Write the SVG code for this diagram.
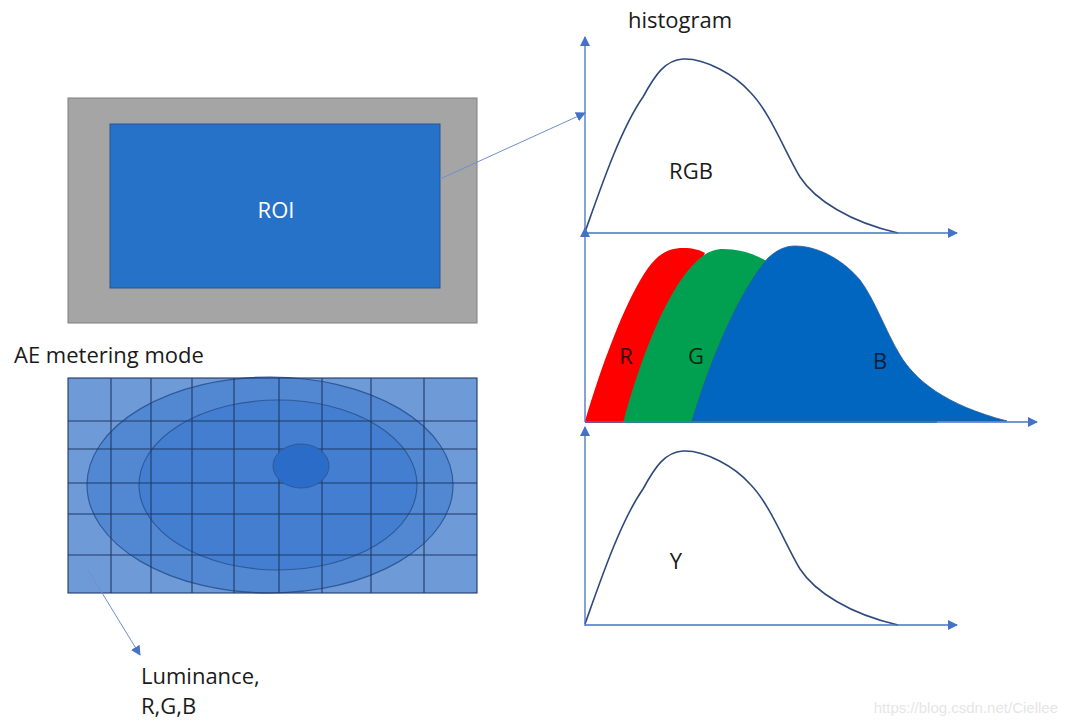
<svg xmlns="http://www.w3.org/2000/svg" width="1069" height="727" viewBox="0 0 1069 727">
<defs>
<marker id="ah" viewBox="0 0 10 10" refX="9" refY="5" markerWidth="10" markerHeight="10" markerUnits="userSpaceOnUse" orient="auto">
<path d="M0,0 L10,5 L0,10 Z" fill="#4472c4"/>
</marker>
<style>
.t{font-family:"Open Sans","Liberation Sans",sans-serif;font-size:22px;fill:#1a1a1a}
.ax{stroke:#4472c4;stroke-width:1.3;fill:none;marker-end:url(#ah)}
.cv{stroke:#2f4a7a;stroke-width:1.6;fill:none}
.gl{stroke:#1f3a66;stroke-width:1.1}
.conn{stroke:#6f8fd0;stroke-width:1;fill:none;marker-end:url(#ah)}
</style>
</defs>
<rect width="1069" height="727" fill="#ffffff"/>

<g id="roi-frame">
<rect x="68" y="98" width="409" height="225" fill="#a5a5a5" stroke="#7f7f7f" stroke-width="1"/>
<rect x="110" y="124" width="330" height="164" fill="#2672c9" stroke="#2a5490" stroke-width="1"/>
<text x="276" y="218" text-anchor="middle" class="t" style="fill:#ffffff">ROI</text>
</g>

<g id="ae-grid">
<text x="14" y="363" class="t">AE metering mode</text>
<rect x="68" y="378" width="409" height="215" fill="#6e9ad8"/>
<ellipse cx="270" cy="485" rx="183" ry="108" fill="#4a80cf" fill-opacity="0.75" stroke="#2e5a9a" stroke-width="1.2"/>
<ellipse cx="278" cy="485" rx="139" ry="85" fill="#3e7ad0" fill-opacity="0.7" stroke="#2e5a9a" stroke-width="1.2"/>
<g class="gl">
<line x1="111" y1="378" x2="111" y2="593"/>
<line x1="151" y1="378" x2="151" y2="593"/>
<line x1="192" y1="378" x2="192" y2="593"/>
<line x1="234" y1="378" x2="234" y2="593"/>
<line x1="279" y1="378" x2="279" y2="593"/>
<line x1="322" y1="378" x2="322" y2="593"/>
<line x1="371" y1="378" x2="371" y2="593"/>
<line x1="424" y1="378" x2="424" y2="593"/>
<line x1="68" y1="421" x2="477" y2="421"/>
<line x1="68" y1="449" x2="477" y2="449"/>
<line x1="68" y1="483" x2="477" y2="483"/>
<line x1="68" y1="514" x2="477" y2="514"/>
<line x1="68" y1="555" x2="477" y2="555"/>
</g>
<ellipse cx="301" cy="466" rx="28" ry="22" fill="#2a6cc8" stroke="#2e5a9a" stroke-width="1"/>
<rect x="68" y="378" width="409" height="215" fill="none" stroke="#1f3a66" stroke-width="1.1"/>
</g>

<g id="luminance-label">
<text x="141" y="684" class="t">Luminance,</text>
<text x="141" y="714" class="t">R,G,B</text>
</g>

<g id="histogram-title">
<text x="628" y="28" class="t">histogram</text>
</g>

<g id="chart-rgb">
<path class="cv" d="M585,232 C600,190 620,130 643,97 C655,75 665,60 683,59 C705,58 735,75 750,92 C770,112 785,152 800,177 C815,200 850,222 898,233"/>
<line class="ax" x1="585" y1="234" x2="585" y2="37"/>
<line class="ax" x1="585" y1="233" x2="957" y2="233"/>
<text x="691" y="179" text-anchor="middle" class="t">RGB</text>
</g>

<g id="chart-rgb-channels">
<path fill="#ff0000" d="M585,421 C600,370 625,300 648,268 C660,252 670,248 683,248 C693,248 700,250 705,253 L623,423 L585,423 Z"/>
<path fill="#00a050" d="M623,423 C640,360 665,295 692,266 C703,254 712,249 723,249 C742,249 757,255 768,262 L800,421 L937,421 L937,423 Z"/>
<path fill="#0066c0" stroke="#2a5a9a" stroke-width="0.8" d="M692,421 C710,360 740,290 768,258 C777,250 785,246 795,246 C820,246 845,262 860,280 C875,300 885,330 900,355 C915,380 945,405 1007,421 Z"/>
<line class="ax" x1="585" y1="422" x2="585" y2="228"/>
<line class="ax" x1="585" y1="422" x2="1037" y2="422"/>
<text x="626" y="364" text-anchor="middle" class="t" style="fill:#3a0000">R</text>
<text x="696" y="364" text-anchor="middle" class="t" style="fill:#002a10">G</text>
<text x="880" y="369" text-anchor="middle" class="t" style="fill:#0a1f3a">B</text>
</g>

<g id="chart-y">
<path class="cv" d="M585,624 C600,582 620,522 643,489 C655,467 665,452 683,451 C705,450 735,467 750,484 C770,504 785,544 800,569 C815,592 850,614 898,625"/>
<line class="ax" x1="585" y1="626" x2="585" y2="427"/>
<line class="ax" x1="585" y1="625" x2="957" y2="625"/>
<text x="676" y="569" text-anchor="middle" class="t">Y</text>
</g>

<g id="connectors">
<line class="conn" x1="440" y1="179" x2="585" y2="113"/>
<line class="conn" x1="88" y1="570" x2="140" y2="655"/>
</g>

<text x="1058" y="713" text-anchor="end" style="font-family:'Liberation Sans',Arial,sans-serif;font-size:15px;fill:#e6e6e6">https://blog.csdn.net/Ciellee</text>
</svg>
